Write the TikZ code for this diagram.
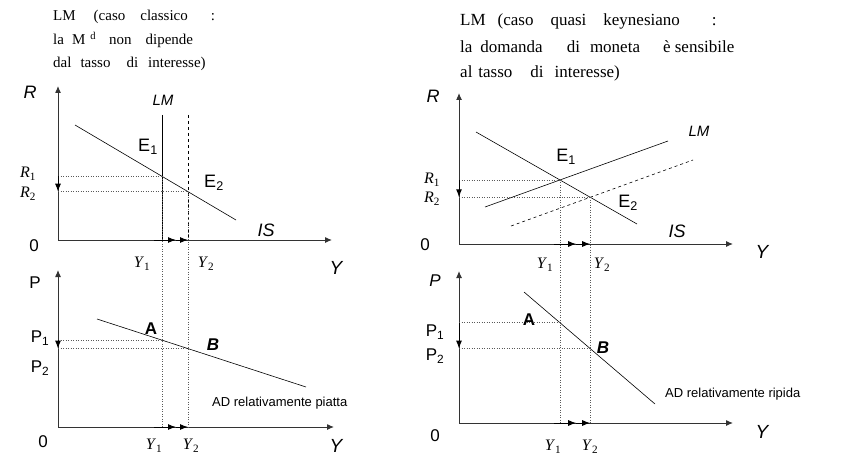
\documentclass[tikz,border=0pt]{standalone}
\usepackage{fontspec}
\setmainfont{Liberation Serif}
\setsansfont{Liberation Sans}
\usetikzlibrary{positioning,calc,arrows.meta,intersections}

\begin{document}
\begin{tikzpicture}[x=1pt,y=-1pt,
    axis/.style={-{Latex[length=7pt,width=6pt]},line width=1pt,black!80},
    curve/.style={line width=0.6pt},
    guide/.style={dotted,line width=0.5pt,black!65},
    move/.style={-{Latex[length=8pt,width=6pt]},line width=1pt},
    note/.style={anchor=base west,inner sep=0pt},
    lab/.style={font=\sffamily\fontsize{18}{18}\selectfont,inner sep=0pt},
    slab/.style={font=\fontsize{16}{16}\selectfont,inner sep=0pt}]
\useasboundingbox (0,0) rectangle (853,457);

% titoli
\node[note,font=\fontsize{15}{15}\selectfont] (tl1) at (53,21) {LM\hspace{18pt}(caso\hspace{15pt}classico\hspace{23pt}:};
\node[note,font=\fontsize{15}{15}\selectfont] (tl2) at (53,45) {la\hspace{8pt}M\hspace{5pt}\textsuperscript{d}\hspace{13pt}non\hspace{14pt}dipende};
\node[note,font=\fontsize{15}{15}\selectfont] (tl3) at (53,68) {dal\hspace{9pt}tasso\hspace{16pt}di\hspace{10pt}interesse)};
\node[note,font=\fontsize{17}{17}\selectfont] (tr1) at (460,26) {LM\hspace{12pt}(caso\hspace{17pt}quasi\hspace{17pt}keynesiano\hspace{32pt}:};
\node[note,font=\fontsize{17}{17}\selectfont] (tr2) at (460,53) {la\hspace{8pt}domanda\hspace{24pt}di\hspace{10pt}moneta\hspace{23pt}è sensibile};
\node[note,font=\fontsize{17}{17}\selectfont] (tr3) at (460,78) {al\hspace{6pt}tasso\hspace{18pt}di\hspace{11pt}interesse)};

% IS-LM classico
\coordinate (aO) at (58,240);
\coordinate (aRtop) at (58,86);
\coordinate (aYend) at (332,240);
\draw[axis] (aO) -- (aRtop);
\draw[axis] (aO) -- (aYend);
\draw[curve,name path=aLM] (162,115) -- (162,240);
\draw[curve,dashed,name path=aLMb] (188,115) -- (188,240);
\draw[curve,name path=aIS] (75,125) -- (236,220);
\path[name intersections={of=aLM and aIS,by=aE1}];
\path[name intersections={of=aLMb and aIS,by=aE2}];
\draw[guide] (aO |- aE1) -- (aE1);
\draw[guide] (aO |- aE2) -- (aE2);
\draw[move] (aO |- aE1) -- (aO |- aE2);
\coordinate (aY1) at ($(aE1 |- aO)+(-8,0)$);
\coordinate (aY2) at (aE2 |- aO);
\coordinate (aYm) at ($(aY2)+(-12,0)$);
\draw[move] (aY1) -- (aYm);
\draw[move] (aYm) -- (aY2);

\node[lab,font=\sffamily\itshape\fontsize{18}{18}\selectfont] (aR) at (30,92) {R};
\node[lab,font=\sffamily\itshape\fontsize{15}{15}\selectfont] (aLMl) at (163,100) {LM};
\node[lab] (aE1l) at (148,147) {E\textsubscript{1}};
\node[lab] (aE2l) at (214,183) {E\textsubscript{2}};
\node[lab,font=\sffamily\itshape\fontsize{18}{18}\selectfont] (aISl) at (266,230) {IS};
\node[slab] (aR1) at (28,174) {\textit{R}\textsubscript{1}};
\node[slab] (aR2) at (28,194) {\textit{R}\textsubscript{2}};
\node[lab,font=\sffamily\fontsize{17}{17}\selectfont] (a0) at (34,246) {0};
\node[slab] (aY1l) at (142,264) {\textit{Y}\textsubscript{1}};
\node[slab] (aY2l) at (206,264) {\textit{Y}\textsubscript{2}};
\node[lab,font=\sffamily\itshape\fontsize{19}{19}\selectfont] (aY) at (336,268) {Y};

% AD piatta
\coordinate (bO) at (58,427);
\coordinate (bPtop) at (58,270);
\coordinate (bYend) at (334,427);
\draw[axis] (bO) -- (bPtop);
\draw[axis] (bO) -- (bYend);
\draw[guide,name path=aV1] (aE1) -- (aE1 |- bO);
\draw[guide,name path=aV2] (aE2) -- (aE2 |- bO);
\draw[curve,name path=bAD] (97,319) -- (306,387);
\path[name intersections={of=aV1 and bAD,by=bA}];
\path[name intersections={of=aV2 and bAD,by=bB}];
\draw[guide] (bO |- bA) -- (bA);
\draw[guide] (bO |- bB) -- (bB);
\draw[move] (bO |- bA) -- (bO |- bB);
\coordinate (bY1) at ($(aE1 |- bO)+(-8,0)$);
\coordinate (bY2) at (aE2 |- bO);
\coordinate (bYm) at ($(bY2)+(-12,0)$);
\draw[move] (bY1) -- (bYm);
\draw[move] (bYm) -- (bY2);

\node[lab,font=\sffamily\fontsize{17}{17}\selectfont] (bP) at (35,283) {P};
\node[lab,font=\sffamily\fontsize{17}{17}\selectfont] (bP1) at (40,338) {P\textsubscript{1}};
\node[lab,font=\sffamily\fontsize{17}{17}\selectfont] (bP2) at (40,368) {P\textsubscript{2}};
\node[lab,font=\sffamily\bfseries\fontsize{17}{17}\selectfont] (bAl) at (151,329) {A};
\node[lab,font=\sffamily\bfseries\itshape\fontsize{17}{17}\selectfont] (bBl) at (213,345) {B};
\node[lab,font=\sffamily\fontsize{13}{13}\selectfont,anchor=west] (bADl) at (212,403) {AD relativamente piatta};
\node[lab,font=\sffamily\fontsize{17}{17}\selectfont] (b0) at (43,442) {0};
\node[slab] (bY1l) at (154,446) {\textit{Y}\textsubscript{1}};
\node[slab] (bY2l) at (191,446) {\textit{Y}\textsubscript{2}};
\node[lab,font=\sffamily\itshape\fontsize{19}{19}\selectfont] (bY) at (336,446) {Y};

% IS-LM quasi keynesiano
\coordinate (cO) at (459,244);
\coordinate (cRtop) at (459,93);
\coordinate (cYend) at (733,244);
\draw[axis] (cO) -- (cRtop);
\draw[axis] (cO) -- (cYend);
\draw[curve,name path=cLM] (485,207) -- (668,141);
\draw[curve,dashed,name path=cLMb] (511,226) -- (693,160);
\draw[curve,name path=cIS] (476,132) -- (637,224);
\path[name intersections={of=cLM and cIS,by=cE1}];
\path[name intersections={of=cLMb and cIS,by=cE2}];
\draw[guide] (cO |- cE1) -- (cE1);
\draw[guide] (cO |- cE2) -- (cE2);
\draw[move] (cO |- cE1) -- (cO |- cE2);
\coordinate (cY1) at ($(cE1 |- cO)+(-6,0)$);
\coordinate (cY2) at (cE2 |- cO);
\coordinate (cYm) at ($(cY2)+(-14,0)$);
\draw[move] (cY1) -- (cYm);
\draw[move] (cYm) -- (cY2);

\node[lab,font=\sffamily\itshape\fontsize{18}{18}\selectfont] (cR) at (433,96) {R};
\node[lab,font=\sffamily\itshape\fontsize{15}{15}\selectfont] (cLMl) at (699,131) {LM};
\node[lab] (cE1l) at (566,157) {E\textsubscript{1}};
\node[lab] (cE2l) at (628,203) {E\textsubscript{2}};
\node[lab,font=\sffamily\itshape\fontsize{18}{18}\selectfont] (cISl) at (677,231) {IS};
\node[slab] (cR1) at (432,180) {\textit{R}\textsubscript{1}};
\node[slab] (cR2) at (432,199) {\textit{R}\textsubscript{2}};
\node[lab,font=\sffamily\fontsize{17}{17}\selectfont] (c0) at (425,245) {0};
\node[slab] (cY1l) at (545,265) {\textit{Y}\textsubscript{1}};
\node[slab] (cY2l) at (602,265) {\textit{Y}\textsubscript{2}};
\node[lab,font=\sffamily\itshape\fontsize{19}{19}\selectfont] (cY) at (762,252) {Y};

% AD ripida
\coordinate (dO) at (459,423);
\coordinate (dPtop) at (459,271);
\coordinate (dYend) at (733,423);
\draw[axis] (dO) -- (dPtop);
\draw[axis] (dO) -- (dYend);
\draw[guide,name path=cV1] (cE1) -- (cE1 |- dO);
\draw[guide,name path=cV2] (cE2) -- (cE2 |- dO);
\draw[curve,name path=dAD] (524,292) -- (655,404);
\path[name intersections={of=cV1 and dAD,by=dA}];
\path[name intersections={of=cV2 and dAD,by=dB}];
\draw[guide] (dO |- dA) -- (dA);
\draw[guide] (dO |- dB) -- (dB);
\draw[move] (dO |- dA) -- (dO |- dB);
\coordinate (dY1) at ($(cE1 |- dO)+(-6,0)$);
\coordinate (dY2) at (cE2 |- dO);
\coordinate (dYm) at ($(dY2)+(-14,0)$);
\draw[move] (dY1) -- (dYm);
\draw[move] (dYm) -- (dY2);

\node[lab,font=\sffamily\itshape\fontsize{17}{17}\selectfont] (dP) at (435,281) {P};
\node[lab,font=\sffamily\fontsize{17}{17}\selectfont] (dP1) at (435,332) {P\textsubscript{1}};
\node[lab,font=\sffamily\fontsize{17}{17}\selectfont] (dP2) at (435,356) {P\textsubscript{2}};
\node[lab,font=\sffamily\bfseries\fontsize{17}{17}\selectfont] (dAl) at (529,320) {A};
\node[lab,font=\sffamily\bfseries\itshape\fontsize{17}{17}\selectfont] (dBl) at (603,348) {B};
\node[lab,font=\sffamily\fontsize{13}{13}\selectfont,anchor=west] (dADl) at (665,394) {AD relativamente ripida};
\node[lab,font=\sffamily\fontsize{17}{17}\selectfont] (d0) at (435,436) {0};
\node[slab] (dY1l) at (553,447) {\textit{Y}\textsubscript{1}};
\node[slab] (dY2l) at (590,447) {\textit{Y}\textsubscript{2}};
\node[lab,font=\sffamily\itshape\fontsize{19}{19}\selectfont] (dY) at (762,432) {Y};
\end{tikzpicture}
\end{document}
